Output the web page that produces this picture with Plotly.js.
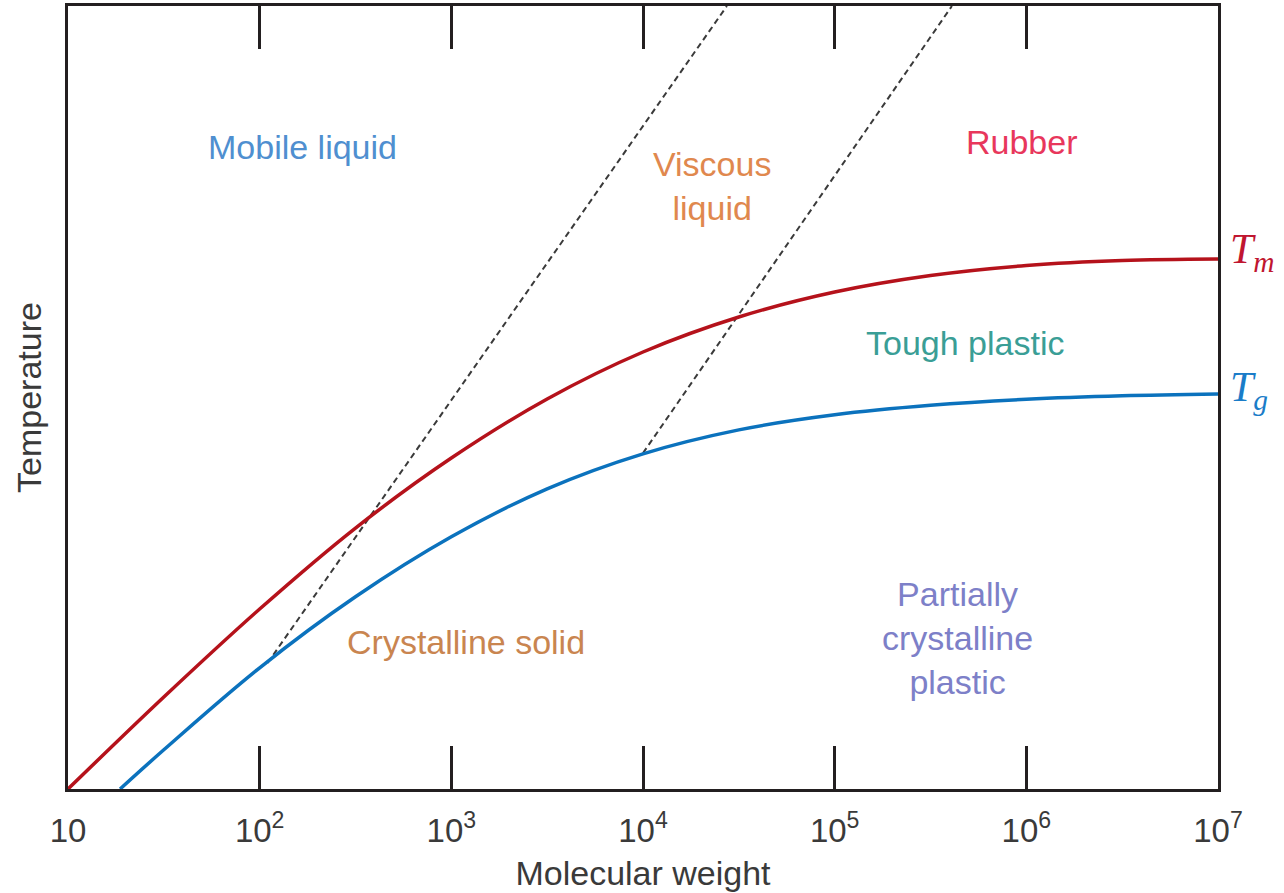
<!DOCTYPE html>
<html>
<head>
<meta charset="utf-8">
<script src="https://cdn.plot.ly/plotly-3.0.1.min.js"></script>
<style>
  html, body { margin: 0; padding: 0; background: #ffffff; }
  #chart { width: 1284px; height: 893px; }
</style>
</head>
<body>
<div id="chart"></div>
<script>
// Molecular weight (x, log scale) and relative temperature (y, arbitrary 0–100 scale)
const tmWeight = [10, 31.62, 100, 316.2, 1000, 3162, 10000, 31623, 100000, 316228, 1000000, 3162278, 10000000];
const tmTemp   = [0, 11.75, 22.99, 33.33, 42.27, 49.81, 55.81, 60.28, 63.47, 65.58, 66.86, 67.50, 67.69];

const tgWeight = [18.7, 31.62, 100, 316.2, 1000, 3162, 10000, 31623, 100000, 316228, 1000000, 3162278, 10000000];
const tgTemp   = [0, 5.01, 15.48, 24.55, 32.21, 38.34, 42.81, 45.87, 47.79, 49.00, 49.77, 50.22, 50.45];

const boundary1Weight = [110, 27400];
const boundary1Temp   = [16.1, 100];
const boundary2Weight = [10000, 409000];
const boundary2Temp   = [42.9, 100];

const tickValues = [10, 100, 1000, 10000, 100000, 1000000, 10000000];
const tickLabels = ["10", "10<sup>2</sup>", "10<sup>3</sup>", "10<sup>4</sup>", "10<sup>5</sup>", "10<sup>6</sup>", "10<sup>7</sup>"];

const regionNames = ["Mobile liquid", "Viscous<br>liquid", "Rubber", "Tough plastic", "Crystalline solid", "Partially<br>crystalline<br>plastic"];
const regionLogWeight = [2.226, 4.36, 5.977, 5.68, 3.077, 5.643];
const regionTemp = [82.0, 77.0, 82.6, 57.0, 18.8, 19.3];
const regionColors = ["#4f8fd0", "#e0884e", "#e8375c", "#3a9e96", "#c98550", "#7d80c8"];

const FONT = "'Liberation Sans', Arial, sans-serif";
const AXIS = "#231f20";

const traces = [
  { x: boundary1Weight, y: boundary1Temp, mode: "lines", line: { color: "#3a3a3a", width: 2, dash: "6px,4px" }, hoverinfo: "skip", showlegend: false },
  { x: boundary2Weight, y: boundary2Temp, mode: "lines", line: { color: "#3a3a3a", width: 2, dash: "6px,4px" }, hoverinfo: "skip", showlegend: false },
  { x: tmWeight, y: tmTemp, mode: "lines", name: "Tm", line: { color: "#b5121b", width: 3.5, shape: "spline", smoothing: 1 }, showlegend: false },
  { x: tgWeight, y: tgTemp, mode: "lines", name: "Tg", line: { color: "#0b72bd", width: 3.5, shape: "spline", smoothing: 1 }, showlegend: false }
];

const annotations = regionNames.map((t, i) => ({
  text: t, x: regionLogWeight[i], y: regionTemp[i], xref: "x", yref: "y",
  showarrow: false, xanchor: "center", yanchor: "middle", align: "center",
  font: { family: FONT, size: 34, color: regionColors[i] }
}));
annotations.push({
  text: "<i>T</i><sub><i>m</i></sub>", x: 1, y: 68.6, xref: "paper", yref: "y",
  xanchor: "left", yanchor: "middle", xshift: 10, showarrow: false,
  font: { family: "'Liberation Serif', 'Times New Roman', serif", size: 42, color: "#c01530" }
});
annotations.push({
  text: "<i>T</i><sub><i>g</i></sub>", x: 1, y: 51.0, xref: "paper", yref: "y",
  xanchor: "left", yanchor: "middle", xshift: 10, showarrow: false,
  font: { family: "'Liberation Serif', 'Times New Roman', serif", size: 42, color: "#1a7cc8" }
});

const layout = {
  width: 1284, height: 893,
  margin: { l: 68, r: 66, t: 6, b: 104 },
  paper_bgcolor: "#ffffff", plot_bgcolor: "#ffffff",
  font: { family: FONT, color: "#3a3a3a" },
  showlegend: false,
  xaxis: {
    type: "log", range: [1, 7],
    tickvals: tickValues, ticktext: tickLabels,
    ticks: "inside", ticklen: 43, tickwidth: 3, tickcolor: AXIS,
    showline: true, linewidth: 3, linecolor: AXIS, mirror: "ticks",
    showgrid: false, zeroline: false,
    tickfont: { family: FONT, size: 33, color: "#3a3a3a" },
    ticklabelstandoff: 10,
    title: { text: "Molecular weight", font: { family: FONT, size: 34, color: "#3a3a3a" }, standoff: 14 }
  },
  yaxis: {
    range: [0, 100],
    showline: true, linewidth: 3, linecolor: AXIS, mirror: true,
    ticks: "", showticklabels: false, showgrid: false, zeroline: false,
    title: { text: "Temperature", font: { family: FONT, size: 34, color: "#3a3a3a" }, standoff: 14 }
  },
  annotations: annotations
};

Plotly.newPlot("chart", traces, layout, { displayModeBar: false, staticPlot: true });
</script>
</body>
</html>
